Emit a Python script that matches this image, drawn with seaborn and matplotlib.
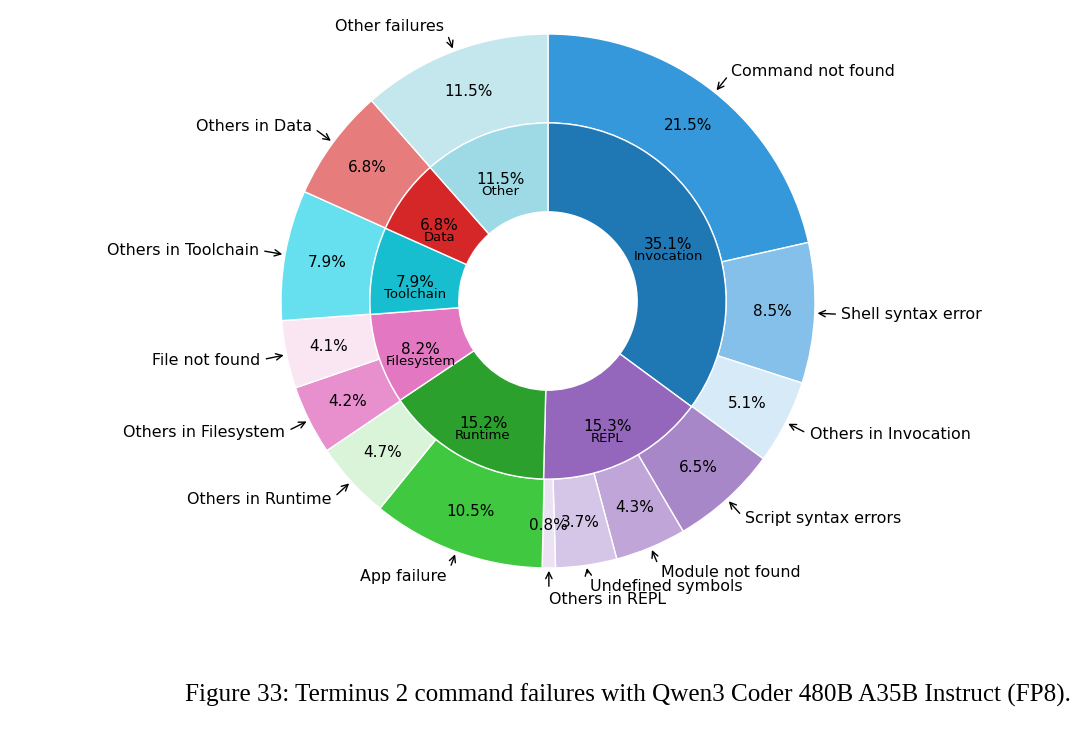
import numpy as np
import matplotlib
matplotlib.use("Agg")
import matplotlib.pyplot as plt
import seaborn as sns

# Datos: anillo interior (categorias) y exterior (subcategorias)
grupos = ["Invocation", "REPL", "Runtime", "Filesystem", "Toolchain", "Data", "Other"]
valores_grupos = [35.1, 15.3, 15.2, 8.2, 7.9, 6.8, 11.5]

subgrupos = ["Command not found", "Shell syntax error", "Others in Invocation",
             "Script syntax errors", "Module not found", "Undefined symbols", "Others in REPL",
             "App failure", "Others in Runtime",
             "Others in Filesystem", "File not found",
             "Others in Toolchain",
             "Others in Data",
             "Other failures"]
valores_subgrupos = [21.5, 8.5, 5.1,
                     6.5, 4.3, 3.7, 0.8,
                     10.5, 4.7,
                     4.2, 4.1,
                     7.9,
                     6.8,
                     11.5]

titulo = "Figure 33: Terminus 2 command failures with Qwen3 Coder 480B A35B Instruct (FP8)."

# Colores
colores_grupos = ["#1f77b4", "#9467bd", "#2ca02c", "#e377c2", "#17becf", "#d62728", "#9edae5"]
colores_subgrupos = ["#3498da", "#85c0ea", "#d6eaf8",
                     "#a887c8", "#bfa5d8", "#d5c5e7", "#ebe3f3",
                     "#40c840", "#daf4da",
                     "#e890ce", "#fae6f3",
                     "#66e0ef",
                     "#e77c7c",
                     "#c4e7ee"]

sns.set_theme(style="white")
plt.rcParams['font.family'] = ['DejaVu Sans']
plt.rcParams['text.color'] = 'black'

fig = plt.figure(figsize=(10.88, 7.3), dpi=100)
ax = fig.add_axes([0, 0, 1, 1])

ancho = 0.333
r_int = 0.667
borde = dict(width=ancho, edgecolor="white", linewidth=1)

# Anillo exterior
cuñas_ext, _, pct_ext = ax.pie(valores_subgrupos, radius=1.0, colors=colores_subgrupos,
                               startangle=90, counterclock=False, wedgeprops=borde,
                               autopct="%1.1f%%", pctdistance=0.84,
                               textprops=dict(fontsize=11, color="black"))

# Anillo interior
cuñas_int, _, pct_int = ax.pie(valores_grupos, radius=r_int, colors=colores_grupos,
                               startangle=90, counterclock=False, wedgeprops=borde,
                               autopct="%1.1f%%", pctdistance=0.757,
                               textprops=dict(fontsize=11, color="black"))

# Etiquetas de nombre en el anillo interior
for w, t, nombre in zip(cuñas_int, pct_int, grupos):
    x, y = t.get_position()
    t.set_position((x, y - 0.017))
    ax.text(x, y - 0.062, nombre, ha="center", va="center", fontsize=9.5, color="black")

# Posiciones de las etiquetas exteriores
puntos = []
textos = []
for w in cuñas_ext:
    ang = np.deg2rad((w.theta1 + w.theta2) / 2.0)
    x, y = np.cos(ang), np.sin(ang)
    puntos.append((x, y))
    textos.append([1.1 * x, 1.1 * y])

# Separar etiquetas que quedan muy juntas
sep = 0.05
for _ in range(20):
    for i in range(len(textos)):
        for j in range(i + 1, len(textos)):
            xi, yi = textos[i]
            xj, yj = textos[j]
            if np.sign(xi) == np.sign(xj) and abs(xi - xj) < 0.5 and abs(yi - yj) < sep:
                m = (yi + yj) / 2
                if yi >= yj:
                    textos[i][1], textos[j][1] = m + sep / 2, m - sep / 2
                else:
                    textos[i][1], textos[j][1] = m - sep / 2, m + sep / 2

# Anotaciones con flechas del anillo exterior
for (x, y), (tx, ty), nombre in zip(puntos, textos, subgrupos):
    ha = "left" if x > 0 else "right"
    rel = (0, 0.5) if x > 0 else (1, 0.5)
    ax.annotate(nombre, xy=(x, y), xytext=(tx, ty), ha=ha, va="center",
                fontsize=11.4, color="black",
                arrowprops=dict(arrowstyle="->", color="black", lw=1, relpos=rel))

ax.set_xlim(-548 / 267, 540 / 267)
ax.set_ylim(-429 / 267, 301 / 267)
ax.set_aspect("equal")
ax.axis("off")

fig.text(628 / 1088, 1 - 695 / 730, titulo, ha="center", va="center",
         fontsize=18.1, color="black", family=["Liberation Serif", "DejaVu Serif"])

fig.savefig("out.png", dpi=100)
